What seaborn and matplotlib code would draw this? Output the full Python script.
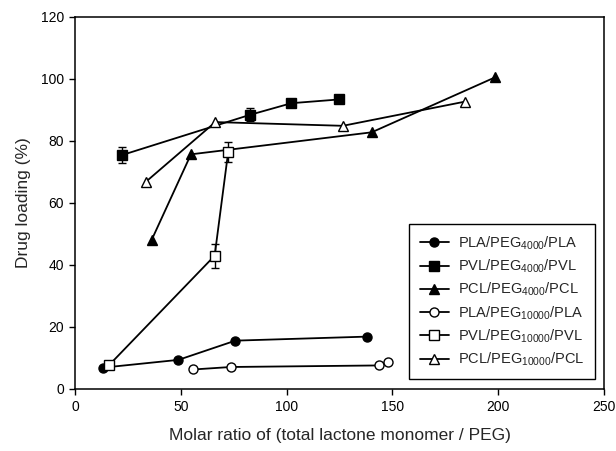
import matplotlib
matplotlib.use("Agg")
import matplotlib.pyplot as plt
import seaborn as sns
import pandas as pd

# Data
pla4000_x = [13.4, 48.9, 75.8, 138.1]
pla4000_y = [6.9, 9.4, 15.6, 16.9]
pvl4000_x = [22.4, 82.5, 102.3, 124.7]
pvl4000_y = [75.5, 88.4, 92.2, 93.4]
pvl4000_err = [2.7, 2.1, 0.0, 0.0]
pcl4000_x = [36.3, 54.8, 140.2, 198.4]
pcl4000_y = [48.2, 75.7, 82.8, 100.5]
pla10000_x = [56.0, 73.7, 143.6, 147.9]
pla10000_y = [6.3, 7.1, 7.6, 8.6]
pvl10000_x = [16.1, 66.0, 72.4]
pvl10000_y = [7.7, 43.0, 76.5]
pvl10000_err = [0.0, 3.9, 3.2]
pcl10000_x = [33.6, 66.3, 126.6, 184.3]
pcl10000_y = [66.9, 86.1, 84.9, 92.7]

labels = [r"PLA/PEG$_{4000}$/PLA", r"PVL/PEG$_{4000}$/PVL", r"PCL/PEG$_{4000}$/PCL",
          r"PLA/PEG$_{10000}$/PLA", r"PVL/PEG$_{10000}$/PVL", r"PCL/PEG$_{10000}$/PCL"]

sns.set_style("ticks")
plt.rcParams["font.family"] = ["Liberation Sans", "DejaVu Sans"]
plt.rcParams["mathtext.fontset"] = "custom"
plt.rcParams["mathtext.rm"] = "Liberation Sans"
plt.rcParams["mathtext.it"] = "Liberation Sans"
plt.rcParams["mathtext.bf"] = "Liberation Sans"

fig = plt.figure(figsize=(6.16, 4.51), dpi=100)
ax = fig.add_axes([75/616, 1-389/451, (604-75)/616, (389-17)/451])

series = [
    (pla4000_x, pla4000_y, "o", "black", None),
    (pvl4000_x, pvl4000_y, "s", "black", pvl4000_err),
    (pcl4000_x, pcl4000_y, "^", "black", None),
    (pla10000_x, pla10000_y, "o", "white", None),
    (pvl10000_x, pvl10000_y, "s", "white", pvl10000_err),
    (pcl10000_x, pcl10000_y, "^", "white", None),
]

for (xs, ys, m, fc, err), lab in zip(series, labels):
    if err is not None:
        ax.errorbar(xs, ys, yerr=err, fmt="none", ecolor="black", elinewidth=1.0,
                    capsize=3, capthick=1.0, zorder=2)
    df = pd.DataFrame({"x": xs, "y": ys})
    sns.lineplot(data=df, x="x", y="y", ax=ax, sort=False, estimator=None,
                 color="black", linewidth=1.3, marker=m, markersize=6.5,
                 markerfacecolor=fc, markeredgecolor="black", markeredgewidth=1.0,
                 label=lab, zorder=3)

ax.set_xlim(0, 250)
ax.set_ylim(0, 120)
ax.set_xticks([0, 50, 100, 150, 200, 250])
ax.set_yticks([0, 20, 40, 60, 80, 100, 120])
ax.tick_params(direction="out", length=4, width=1, labelsize=10, colors="black", pad=4)
for s in ax.spines.values():
    s.set_linewidth(1.1)
    s.set_color("black")
ax.set_xlabel("Molar ratio of (total lactone monomer / PEG)", fontsize=12.5, labelpad=10)
ax.set_ylabel("Drug loading (%)", fontsize=12.5, labelpad=7)

leg = ax.legend(loc="lower right", bbox_to_anchor=(0.983, 0.027), borderaxespad=0,
                fontsize=10.5, frameon=True, fancybox=False, edgecolor="black",
                framealpha=1, handlelength=2.0, labelspacing=0.4, borderpad=0.75,
                handletextpad=0.6)
leg.get_frame().set_linewidth(1.0)

fig.savefig("out.png", dpi=100)
